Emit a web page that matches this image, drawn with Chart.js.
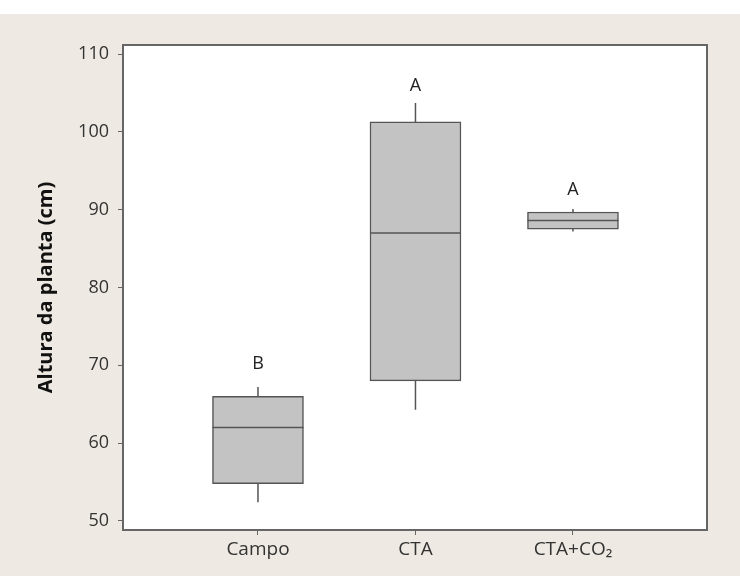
<!DOCTYPE html>
<html>
<head>
<meta charset="utf-8">
<script src="https://cdn.jsdelivr.net/npm/chart.js@4.4.1/dist/chart.umd.min.js"></script>
<style>
  html, body { margin: 0; padding: 0; background: #ffffff; }
  #wrap { position: absolute; left: 0; top: 14px; width: 740px; height: 562px; background: #eeeae3; }
</style>
</head>
<body>
<div id="wrap"><canvas id="chart" width="740" height="562"></canvas></div>
<script>
// groups and box stats
const categories = ['Campo', 'CTA', 'CTA+CO\u2082'];
const xPos = [1, 2, 3];
const whiskerLow = [52.4, 64.3, 87.2];
const q1 = [54.8, 68.0, 87.5];
const median = [62.0, 87.0, 88.6];
const q3 = [66.0, 101.3, 89.7];
const whiskerHigh = [67.2, 103.7, 90.1];
// Tukey letters and where they sit
const letters = ['B', 'A', 'A'];
const letterY = [70.2, 105.9, 92.5];
const yTicks = [50, 60, 70, 80, 90, 100, 110];

const axisColor = '#666666';
const textColor = '#333333';

// whiskers: one vertical segment per group, broken by gaps
const whiskerData = [];
xPos.forEach((x, i) => {
  whiskerData.push({ x: x, y: whiskerLow[i] });
  whiskerData.push({ x: x, y: whiskerHigh[i] });
  whiskerData.push({ x: x + 0.5, y: null });
});

// no extra label padding, the frame is placed by hand
const noPad = (s) => {
  s.paddingLeft = 0; s.paddingRight = 0; s.paddingTop = 0; s.paddingBottom = 0;
};

// white plot area + frame, and the letters above each box
const framePlugin = {
  id: 'frame',
  beforeDraw(chart) {
    const { ctx, chartArea: a } = chart;
    ctx.save();
    ctx.fillStyle = '#ffffff';
    ctx.fillRect(a.left, a.top, a.right - a.left, a.bottom - a.top);
    ctx.restore();
  },
  afterDraw(chart) {
    const { ctx, chartArea: a, scales } = chart;
    ctx.save();
    ctx.strokeStyle = axisColor;
    ctx.lineWidth = 2;
    ctx.strokeRect(a.left, a.top, a.right - a.left, a.bottom - a.top);
    ctx.fillStyle = '#222222';
    ctx.font = '18px "Open Sans"';
    ctx.textAlign = 'center';
    ctx.textBaseline = 'middle';
    letters.forEach((t, i) => {
      ctx.fillText(t, scales.x.getPixelForValue(xPos[i]), scales.y.getPixelForValue(letterY[i]));
    });
    ctx.restore();
  }
};

new Chart(document.getElementById('chart').getContext('2d'), {
  type: 'bar',
  data: {
    datasets: [
      {
        type: 'scatter',
        data: median.map((m, i) => ({ x: xPos[i], y: m })),
        pointStyle: 'line',
        pointRadius: 45.5,
        pointHoverRadius: 45.5,
        borderColor: '#555555',
        borderWidth: 1.5,
        order: 0
      },
      {
        type: 'bar',
        data: xPos.map((x, i) => ({ x: x, y: [q1[i], q3[i]] })),
        backgroundColor: '#c3c3c3',
        borderColor: '#555555',
        borderWidth: 1.5,
        borderSkipped: false,
        barThickness: 91,
        order: 1
      },
      {
        type: 'line',
        data: whiskerData,
        borderColor: '#555555',
        borderWidth: 1.5,
        pointRadius: 0,
        spanGaps: false,
        order: 2
      }
    ]
  },
  options: {
    responsive: false,
    animation: false,
    events: [],
    layout: { autoPadding: false, padding: { top: 31, right: 33, left: 0, bottom: 0 } },
    plugins: { legend: { display: false }, tooltip: { enabled: false } },
    scales: {
      x: {
        type: 'linear',
        offset: false,
        min: 0.143,
        max: 3.851,
        afterBuildTicks: (s) => { s.ticks = xPos.map(v => ({ value: v })); },
        afterFit: (s) => { s.height = 46; noPad(s); },
        grid: { offset: false, drawOnChartArea: false, tickLength: 5, color: axisColor },
        border: { display: false },
        ticks: {
          padding: 3,
          maxRotation: 0,
          color: textColor,
          font: { family: 'Open Sans', size: 19 },
          callback: (v) => categories[xPos.indexOf(v)]
        }
      },
      y: {
        min: 48.84,
        max: 111.16,
        afterBuildTicks: (s) => { s.ticks = yTicks.map(v => ({ value: v })); },
        afterFit: (s) => { s.width = 123; noPad(s); },
        grid: { drawOnChartArea: false, tickLength: 5, color: axisColor },
        border: { display: false },
        ticks: {
          padding: 9,
          color: textColor,
          font: { family: 'Open Sans', size: 18 }
        },
        title: {
          display: true,
          text: 'Altura da planta (cm)',
          color: '#111111',
          font: { family: 'Open Sans', size: 20, weight: 'bold' },
          padding: { top: 34, bottom: 0 }
        }
      }
    }
  },
  plugins: [framePlugin]
});
</script>
</body>
</html>
